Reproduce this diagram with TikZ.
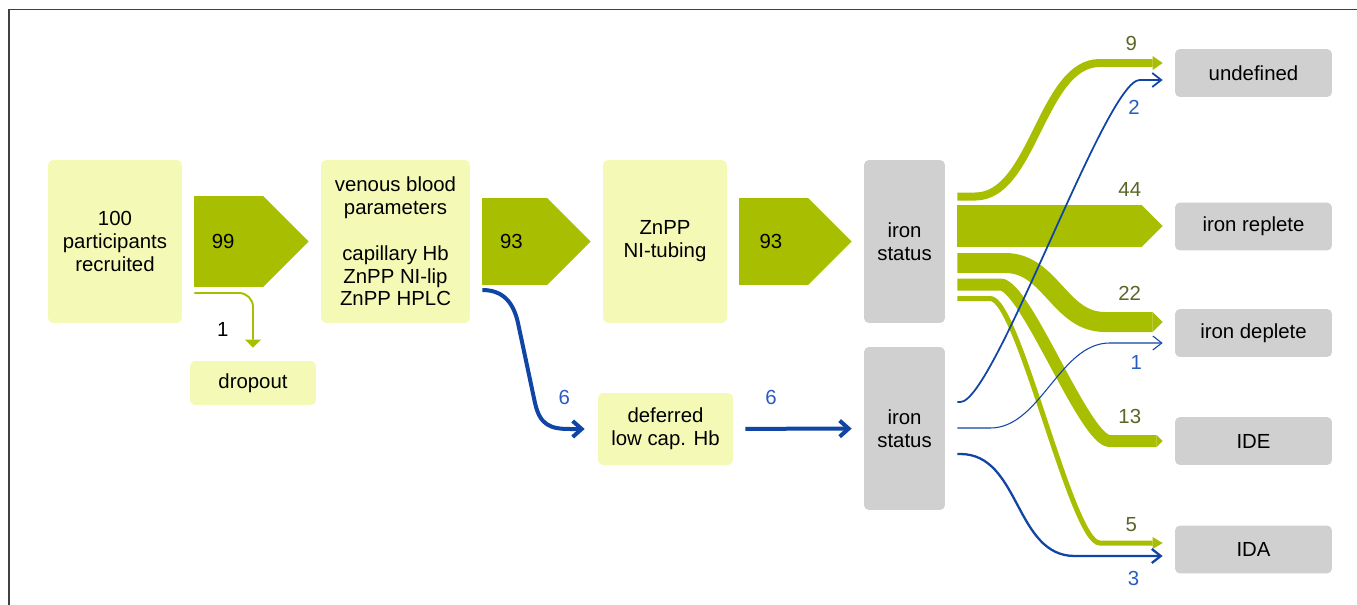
\documentclass[tikz,border=0pt]{standalone}
\usepackage{fontspec}
\setmainfont{Liberation Sans}
\usetikzlibrary{arrows.meta,calc}

\definecolor{paleyel}{RGB}{244,250,182}
\definecolor{leaf}{RGB}{168,190,0}
\definecolor{leafdark}{RGB}{88,102,38}
\definecolor{stone}{RGB}{208,208,208}
\definecolor{ink}{RGB}{16,68,165}
\definecolor{inklight}{RGB}{40,92,190}

\begin{document}
\begin{tikzpicture}[x=0.02cm,y=-0.02cm]
\tikzset{box/.style = {fill=paleyel, rounded corners=0.1cm, align=center, inner sep=0pt, font=\fontsize{11.6}{13}\selectfont},
  tall/.style = {box, minimum height=3.26cm},
  grey/.style = {box, fill=stone},
  result/.style = {grey, minimum width=3.14cm, minimum height=0.96cm},
  num/.style = {inner sep=0pt, outer sep=0pt, text=black, font=\fontsize{11.6}{13}\selectfont},
  gnum/.style = {num, text=leafdark},
  bnum/.style = {num, text=inklight},
  gap/.style = {shorten <=0.24cm, shorten >=0.24cm},
  fat/.style = {draw=leaf, -{Triangle[length=0pt 0.5, width=0pt 1, line width=0pt]}},
  gline/.style = {draw=leaf, -{Triangle[length=0.2cm, width=0.28cm, line width=0pt]}},
  bline/.style = {draw=ink, -{Straight Barb[length=0.18cm, width=0.28cm]}}}
\useasboundingbox (0,0) rectangle (1357,605);
\draw[black!75, line width=1.1pt] (9,605) |- (1357,9.5);

% boxes
\node[tall, minimum width=2.68cm] (rec) at (115,241.5) {100\\participants\\recruited};
\node[tall, minimum width=2.98cm] (ven) at (395.5,241.5) {venous blood\\parameters\\[13pt]capillary Hb\\ZnPP NI-lip\\ZnPP HPLC};
\node[tall, minimum width=2.48cm] (tub) at (665,241.5) {ZnPP\\NI-tubing};
\node[grey, minimum width=1.62cm, minimum height=3.26cm] (st1) at (904.5,241.5) {iron\\status};
\node[grey, minimum width=1.62cm, minimum height=3.26cm] (st2) at (904.5,428.5) {iron\\status};
\node[box, minimum width=2.52cm, minimum height=0.88cm] (drop) at (253,383) {dropout};
\node[box, minimum width=2.7cm, minimum height=1.44cm] (def) at (665.5,429) {deferred\\low cap. Hb};
\node[result] (und) at (1253.5,73) {undefined};
\node[result] (rep) at (1253.5,226.5) {iron replete};
\node[result] (dep) at (1253.5,333) {iron deplete};
\node[result] (ide) at (1253.5,441) {IDE};
\node[result] (ida) at (1253.5,549.5) {IDA};

% main line
\draw[fat, gap, line width=1.82cm] (rec) -- node[num, pos=0.295] (n99) {99} (ven);
\draw[fat, gap, line width=1.74cm] (ven) -- node[num, pos=0.31] (n93a) {93} (tub);
\draw[fat, gap, line width=1.74cm] (tub) -- node[num, pos=0.32] (n93b) {93} (st2.west |- st1.west);
\draw[gline, line width=1.1pt, rounded corners=0.28cm, shorten >=0.26cm, -{Triangle[length=0.16cm, width=0.32cm, line width=0pt]}]
  ($(rec.east)+(12,51.5)$) -| node[num, pos=0.77, left=0.49cm] (n1) {1} (drop);

% low capillary Hb
\draw[bline, line width=0.08cm, shorten >=0.26cm, -{Straight Barb[length=0.18cm, width=0.32cm]}]
  ($(ven.east)+(12,48.5)$) .. controls (505,290) and (514,305) .. (518,323) -- (535,403)
  .. controls (540,425) and (550,429) .. (570,429) node[bnum, pos=0.9, above=0.49cm] (n6a) {6} -- (def);
\draw[bline, gap, line width=0.08cm, -{Straight Barb[length=0.18cm, width=0.32cm]}] (def) -- node[bnum, pos=0.29, above=0.49cm] (n6b) {6} (st2);

% iron status after venous blood
\draw[fat, line width=0.84cm] ($(st1.east)+(12,-15.5)$) -- node[gnum, pos=0.84, above=0.59cm] (n44) {44} ($(rep.west)+(-12,-0.5)$);
\draw[fat, line width=0.4cm] ($(st1.east)+(12,21.5)$) -- ++(48,0)
  .. controls +(45,0) and +(-45,0) .. ($(dep.west)+(-70,-11)$)
  -- node[gnum, pos=0.43, above=0.43cm] (n22) {22} ($(dep.west)+(-12,-11)$);
\draw[fat, line width=0.24cm] ($(st1.east)+(12,43)$) -- ++(43,0)
  .. controls +(25,0) and +(-25,0) .. ($(ide.west)+(-65,0)$)
  -- node[gnum, pos=0.38, above=0.35cm] (n13) {13} ($(ide.west)+(-12,0)$);
\draw[gline, line width=0.16cm] ($(st1.east)+(12,-45)$) -- ++(18,0)
  .. controls +(58,0) and +(-58,0) .. ($(und.west)+(-75,-10)$)
  -- node[gnum, above=0.25cm] (n9) {9} ($(und.west)+(-12,-10)$);
\draw[gline, line width=0.1cm, -{Triangle[length=0.2cm, width=0.24cm, line width=0pt]}] ($(st1.east)+(12,57)$) -- ++(33,0)
  .. controls +(28,0) and +(-28,0) .. ($(ida.west)+(-75,-6.5)$)
  -- node[gnum, above=0.23cm] (n5) {5} ($(ida.west)+(-12,-6.5)$);

% iron status after deferral
\draw[bline, line width=1pt] ($(st2.east)+(12,-26.5)$) -- ++(3,0)
  .. controls +(34,0) and +(-34,0) .. ($(und.west)+(-35,7)$) node[bnum, pos=0.95, below=0.36cm] (n2) {2}
  -- ($(und.west)+(-12,7)$);
\draw[bline, line width=0.6pt] ($(st2.east)+(12,-0.5)$) -- ++(33,0)
  .. controls +(50,0) and +(-50,0) .. ($(dep.west)+(-65,10)$)
  -- node[bnum, below=0.24cm] (n1b) {1} ($(dep.west)+(-12,10)$);
\draw[bline, line width=1.3pt] ($(st2.east)+(12,25.5)$) -- ++(3,0)
  .. controls +(60,0) and +(-60,0) .. ($(ida.west)+(-100,6.5)$)
  -- node[bnum, pos=0.67, below=0.3cm] (n3) {3} ($(ida.west)+(-12,6.5)$);
\end{tikzpicture}
\end{document}
